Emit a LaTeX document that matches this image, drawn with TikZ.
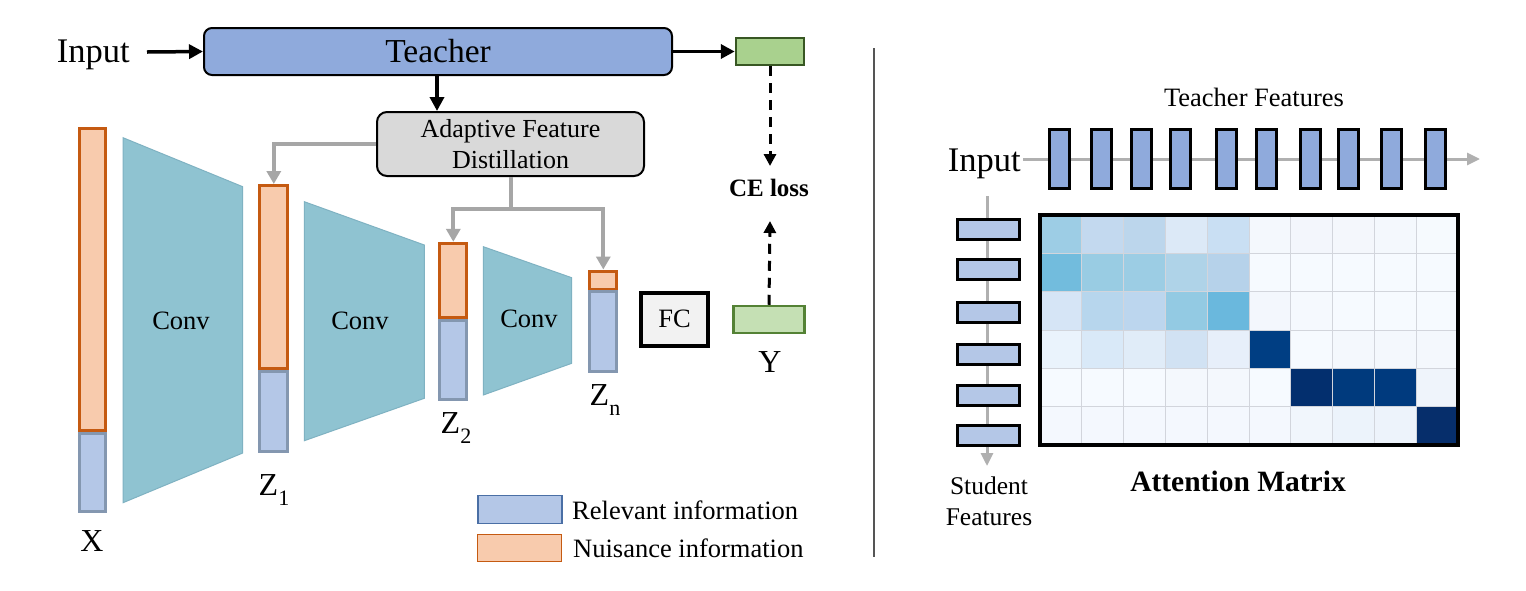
\documentclass[tikz,border=0pt]{standalone}
\usepackage{fontspec}
\setmainfont{Liberation Serif}
\usetikzlibrary{arrows.meta}
\definecolor{tblue}{HTML}{8FAADC}
\definecolor{afdgray}{HTML}{D9D9D9}
\definecolor{gtopfill}{HTML}{A9D18E}
\definecolor{gtopdraw}{HTML}{385723}
\definecolor{gbotfill}{HTML}{C5E0B4}
\definecolor{gbotdraw}{HTML}{548235}
\definecolor{orfill}{HTML}{F8CBAD}
\definecolor{ordraw}{HTML}{C55A11}
\definecolor{blfill}{HTML}{B4C7E7}
\definecolor{bldraw}{HTML}{8497B0}
\definecolor{convfill}{HTML}{8FC3D1}
\definecolor{convdraw}{HTML}{7FB2C2}
\definecolor{arrgray}{HTML}{A6A6A6}
\definecolor{linegray}{HTML}{B0B0B0}
\definecolor{gridc}{HTML}{D2D5DC}
\definecolor{fcfill}{HTML}{F2F2F2}
\definecolor{legbl}{HTML}{4A6FA5}
\definecolor{divc}{HTML}{555555}
\tikzset{
  f26/.style={font=\fontsize{26.5}{30}\selectfont},
  f33/.style={font=\fontsize{34.5}{38}\selectfont},
  f32/.style={font=\fontsize{32}{36}\selectfont},
  teacherbox/.style={draw=black, line width=2, fill=tblue, rounded corners=8, minimum width=468, minimum height=47, inner sep=0, font=\fontsize{33.5}{38}\selectfont},
  afdbox/.style={draw=black, line width=2, fill=afdgray, rounded corners=10, minimum width=267, minimum height=64, inner sep=0, align=center, font=\fontsize{26}{30}\selectfont},
  gtopbox/.style={draw=gtopdraw, line width=2.5, fill=gtopfill, minimum width=68, minimum height=27, inner sep=0},
  gbotbox/.style={draw=gbotdraw, line width=2.5, fill=gbotfill, minimum width=71, minimum height=27, inner sep=0},
  orbar/.style={draw=ordraw, line width=3, fill=orfill, inner sep=0},
  blbar/.style={draw=bldraw, line width=3, fill=blfill, inner sep=0},
  convshape/.style={fill=convfill, draw=convdraw, line width=1},
  fcbox/.style={draw=black, line width=3.5, fill=fcfill, minimum width=67, minimum height=53, inner sep=0, f26},
  blkarrow/.style={line width=3.5, -{Triangle[length=14pt,width=14pt]}},
  gryarrow/.style={draw=arrgray, line width=4, -{Triangle[length=13pt,width=14pt]}},
  dasharrow/.style={line width=3, dash pattern=on 10pt off 7pt, -{Triangle[length=12pt,width=12pt]}},
  thinarrow/.style={draw=linegray, line width=3, -{Triangle[length=13pt,width=12pt]}},
  tfeat/.style={draw=black, line width=3, fill=tblue, minimum width=20, minimum height=59, inner sep=0},
  sfeat/.style={draw=black, line width=3, fill=blfill, minimum width=62, minimum height=20, inner sep=0},
  legblue/.style={draw=legbl, line width=1.2, fill=blfill, minimum width=84, minimum height=28, inner sep=0},
  legor/.style={draw=ordraw, line width=1.2, fill=orfill, minimum width=84, minimum height=27, inner sep=0},
  lbl/.style={f32, inner sep=0},
}
\newcommand{\subsc}[1]{\raisebox{-0.3em}{\fontsize{22}{22}\selectfont #1}}
\begin{document}
\begin{tikzpicture}[x=1pt,y=-1pt]
\useasboundingbox[fill=white] (0,0) rectangle (1526,590);

% ---------- left part ----------
\node[f33, anchor=east, inner sep=0] (inL) at (130,55) {Input};
\node[teacherbox] (teacher) at (438,51.5) {Teacher};
\node[gtopbox] (gtop) at (770,51.5) {};
\node[afdbox] (afd) at (510.5,144) {Adaptive Feature\\[1pt]Distillation};

\draw[blkarrow] (147,52) -- (teacher.west);
\draw[blkarrow] (teacher.east) -- (gtop.west);
\draw[blkarrow] ([xshift=-1pt]teacher.south) -- ([xshift=-1pt]teacher.south |- afd.north);

% conv trapezoids
\draw[convshape] (123,137.7) -- (242.7,186.7) -- (242.7,453) -- (123,502.7) -- cycle;
\draw[convshape] (304.3,201.7) -- (424.3,245) -- (424.3,398.3) -- (304.3,440.7) -- cycle;
\draw[convshape] (483.3,246.7) -- (571.7,277.7) -- (571.7,363.3) -- (483.3,395) -- cycle;
\node[f26] (conv1) at (181,321) {Conv};
\node[f26] (conv2) at (360,321) {Conv};
\node[f26] (conv3) at (529,319) {Conv};

% feature bars
\node[orbar, minimum width=26, minimum height=302] (xo) at (92.5,279.5) {};
\node[blbar, minimum width=26, minimum height=78] (xb) at (92.5,472.5) {};
\node[orbar, minimum width=28, minimum height=183] (z1o) at (273.8,277) {};
\node[blbar, minimum width=28, minimum height=80] (z1b) at (273.8,411.3) {};
\node[orbar, minimum width=27, minimum height=74] (z2o) at (453.3,280.3) {};
\node[blbar, minimum width=27, minimum height=79] (z2b) at (453.3,359.6) {};
\node[orbar, minimum width=27, minimum height=18] (zno) at (603.3,280) {};
\node[blbar, minimum width=27, minimum height=80] (znb) at (603.3,331.7) {};

\node[lbl] (xl) at (92,541) {X};
\node[lbl] (z1l) at (274,490) {Z\subsc{1}};
\node[lbl] (z2l) at (456,428) {Z\subsc{2}};
\node[lbl] (znl) at (605,400) {Z\subsc{n}};

% distillation arrows
\coordinate (split) at (510.5,209);
\draw[gryarrow] (afd.west) -| (z1o.north);
\draw[draw=arrgray, line width=4] (afd.south) -- (split);
\draw[gryarrow] ([xshift=2pt]split) -| (z2o.north);
\draw[gryarrow] ([xshift=-2pt]split) -| (zno.north);

% FC and labels
\node[fcbox] (fc) at (674.5,319.3) {FC};
\node[gbotbox] (ybox) at (769,319.5) {};
\node[lbl] (yl) at (770,362) {Y};
\node[font=\bfseries\fontsize{25}{30}\selectfont] (ce) at (769,188) {CE loss};
\coordinate (cetop) at (770,166);
\coordinate (cebot) at (770,221);
\draw[dasharrow] (gtop.south) -- (cetop);
\draw[dasharrow] (ybox.north) -- (cebot);

% legend
\node[legblue] (lgb) at (520,509.7) {};
\node[legor] (lgo) at (519.5,548.3) {};
\node[f26, anchor=west, inner sep=0] (lgbt) at (572,510) {Relevant information};
\node[f26, anchor=west, inner sep=0] (lgot) at (573,548.5) {Nuisance information};

% divider
\draw[draw=divc, line width=1.3] (874,48) -- (874,557);

% ---------- right part ----------
\node[f26] (tft) at (1254,97) {Teacher Features};
\node[f33, anchor=east, inner sep=0] (inR) at (1021,164) {Input};
\coordinate (tfend) at (1480,159);
\draw[thinarrow] (1023,159) -- (tfend);
\foreach \xx [count=\i] in {1059,1101.5,1141,1180,1226,1266,1310,1348,1391,1435}
  \node[tfeat] (tf\i) at (\xx,158.5) {};

\coordinate (stop) at (987,196);
\coordinate (sbot) at (987,466);
\draw[thinarrow] (stop) -- (sbot);
\foreach \yy [count=\i] in {229,269.5,312,354,395.5,435}
  \node[sfeat] (sf\i) at (988,\yy) {};
\node[align=center, font=\fontsize{25.5}{31}\selectfont] (stt) at (989,501) {Student\\Features};

% attention matrix cells
\def\cw{41.8}
\def\ch{38.333}
\foreach \row [count=\r from 0] in {
  {9DCDE5,C3D9EF,BCD6EC,DCE9F7,C9DFF3,F4F8FD,F3F6FC,F4F7FC,F4F8FD,F6FAFE},
  {72BCDD,99CCE3,9CCDE4,AFD3E8,B6D2EA,F6FAFF,F6FAFF,F6FAFF,F6FAFF,F6FAFF},
  {D6E5F6,B7D6ED,BCD6EE,93CAE3,6AB8DD,F3F7FD,F5F9FE,F6FAFF,F6FAFF,F6FAFF},
  {EAF3FC,D9E9F8,E0ECF8,D1E2F3,E7EFFA,003E83,F6FAFF,F4F8FD,F4F8FD,F4F8FD},
  {F6FAFF,F6FAFF,F6FAFF,F4F8FD,F4F8FD,F6FAFF,032F6E,003A7D,003A7E,EFF4FB},
  {F4F8FE,F4F8FE,F4F8FE,F4F8FE,F4F8FE,F4F8FE,F1F6FC,ECF3FB,EDF3FB,062E6B}}
{
  \foreach \cc [count=\c from 0] in \row {
    \definecolor{cellc}{HTML}{\cc}
    \fill[cellc] ({1040+\c*\cw},{215+\r*\ch}) rectangle ++(\cw,\ch);
  }
}
\foreach \c in {1,...,9}
  \draw[draw=gridc, line width=0.8] ({1040+\c*\cw},215) -- ++(0,230);
\foreach \r in {1,...,5}
  \draw[draw=gridc, line width=0.8] (1040,{215+\r*\ch}) -- ++(418,0);
\node[draw=black, line width=3.5, minimum width=418, minimum height=230, inner sep=0] (attn) at (1249,330) {};
\node[font=\bfseries\fontsize{29.5}{34}\selectfont] (attt) at (1238,481) {Attention Matrix};
\end{tikzpicture}
\end{document}
